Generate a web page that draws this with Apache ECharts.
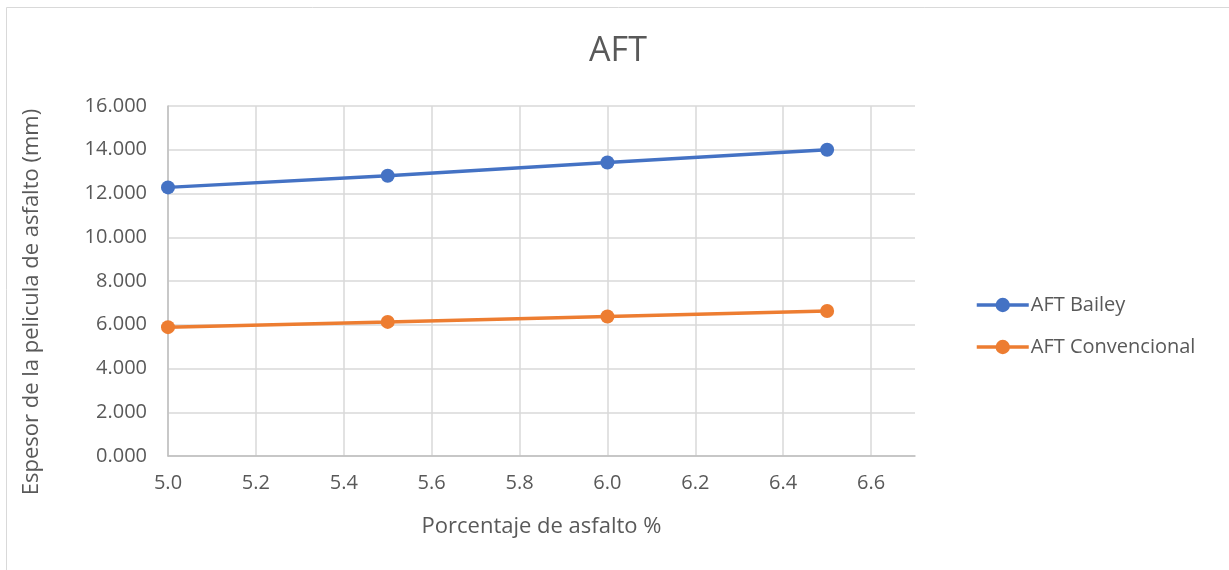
<!DOCTYPE html>
<html>
<head>
<meta charset="utf-8">
<script src="https://cdn.jsdelivr.net/npm/echarts@6/dist/echarts.min.js"></script>
<style>
  html, body { margin: 0; padding: 0; background: #fff; }
  #chart { width: 1229px; height: 570px; }
</style>
</head>
<body>
<div id="chart"></div>
<script>
// Asphalt content (%) on the x axis
const asphaltPct = [5.0, 5.5, 6.0, 6.5];
// Film thickness for each method
const aftBailey = [12.28, 12.81, 13.42, 14.00];
const aftConvencional = [5.89, 6.13, 6.38, 6.63];
const seriesNames = ['AFT Bailey', 'AFT Convencional'];

const FONT = '"Open Sans", "Noto Sans", sans-serif';
const TEXT = '#595959';

const chart = echarts.init(document.getElementById('chart'), null, { renderer: 'canvas' });

function pairs(ys) {
  return asphaltPct.map((x, i) => [x, ys[i]]);
}

chart.setOption({
  animation: false,
  backgroundColor: '#ffffff',
  title: {
    text: 'AFT',
    left: 613,
    top: 29,
    textAlign: 'center',
    textStyle: { fontFamily: FONT, fontSize: 34, fontWeight: 'normal', color: TEXT }
  },
  legend: {
    orient: 'vertical',
    left: 970,
    top: 290,
    itemGap: 22,
    itemWidth: 52,
    itemHeight: 18,
    lineStyle: { width: 3.5 },
    textStyle: { fontFamily: FONT, fontSize: 20, color: TEXT, padding: [0, 0, 0, -3] },
    data: seriesNames
  },
  grid: { left: 168, top: 106, right: 314, bottom: 114, containLabel: false },
  xAxis: {
    type: 'value',
    min: 5.0,
    max: 6.7,
    interval: 0.2,
    name: 'Porcentaje de asfalto %',
    nameLocation: 'middle',
    nameGap: 60,
    nameTextStyle: { fontFamily: FONT, fontSize: 22, color: TEXT },
    axisLine: { show: true, lineStyle: { color: '#bfbfbf', width: 1.5 } },
    axisTick: { show: false },
    axisLabel: {
      fontFamily: FONT, fontSize: 20, color: TEXT, margin: 17,
      showMaxLabel: false,
      formatter: v => (Math.abs(v - 6.7) < 1e-6 ? '' : v.toFixed(1))
    },
    splitLine: { show: true, showMaxLine: false, lineStyle: { color: '#d9d9d9', width: 1.5 } }
  },
  yAxis: {
    type: 'value',
    min: 0,
    max: 16,
    interval: 2,
    axisLine: { show: true, lineStyle: { color: '#bfbfbf', width: 1.5 } },
    axisTick: { show: false },
    axisLabel: {
      fontFamily: FONT, fontSize: 20, color: TEXT, margin: 21,
      formatter: v => v.toFixed(3)
    },
    splitLine: { show: true, lineStyle: { color: '#d9d9d9', width: 1.5 } }
  },
  graphic: [
    {
      type: 'rect',
      silent: true,
      shape: { x: 6.5, y: 7.5, width: 1240, height: 600 },
      style: { fill: 'none', stroke: '#d9d9d9', lineWidth: 1 }
    },
    {
      type: 'text',
      silent: true,
      x: 32,
      y: 302,
      rotation: Math.PI / 2,
      style: {
        text: 'Espesor de la pelicula de asfalto (mm)',
        fontFamily: FONT, fontSize: 22, fill: TEXT,
        align: 'center', verticalAlign: 'middle'
      }
    }
  ],
  series: [
    {
      name: seriesNames[0],
      type: 'line',
      data: pairs(aftBailey),
      color: '#4472C4',
      symbol: 'circle',
      symbolSize: 14,
      lineStyle: { width: 3.5 }
    },
    {
      name: seriesNames[1],
      type: 'line',
      data: pairs(aftConvencional),
      color: '#ED7D31',
      symbol: 'circle',
      symbolSize: 14,
      lineStyle: { width: 3.5 }
    }
  ]
});
</script>
</body>
</html>
